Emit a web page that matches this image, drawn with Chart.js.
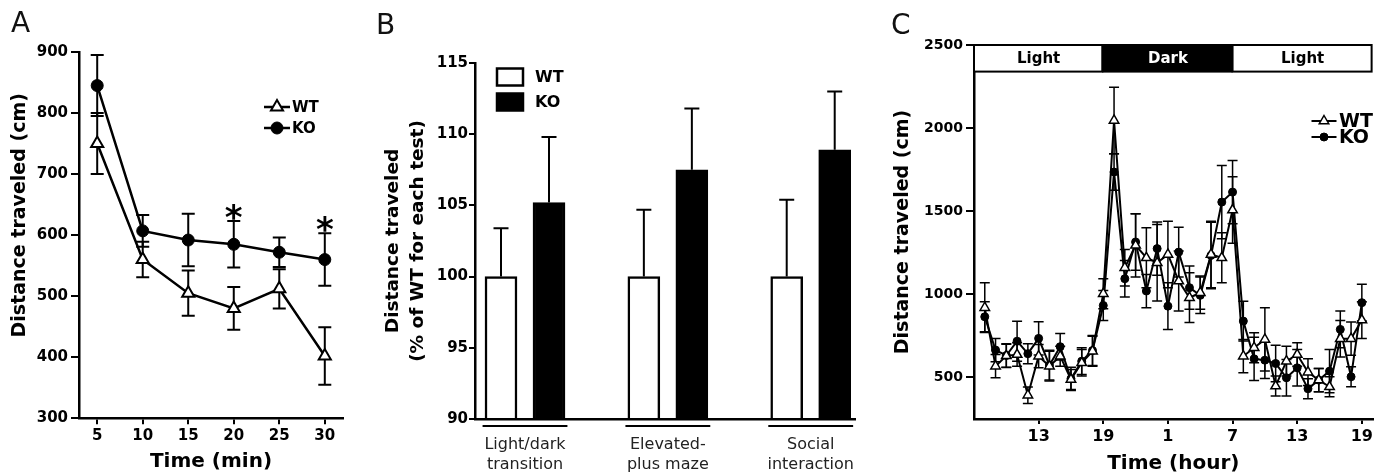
<!DOCTYPE html>
<html>
<head>
<meta charset="utf-8">
<title>Distance traveled, WT vs KO</title>
<script src="https://cdn.jsdelivr.net/npm/chart.js@4.4.1/dist/chart.umd.min.js"></script>
<style>
  body { margin: 0; background: #fff; }
  #fig { position: relative; width: 1376px; height: 476px; overflow: hidden; background: #fff; }
  canvas { position: absolute; top: 0; }
  .tag { position: absolute; font: 28px "DejaVu Sans", sans-serif; color: #111; }
</style>
</head>
<body>
<div id="fig">
  <canvas id="panelA" width="360" height="476" style="left:0"></canvas>
  <canvas id="panelB" width="520" height="476" style="left:360px"></canvas>
  <canvas id="panelC" width="496" height="476" style="left:880px"></canvas>
  <div class="tag" style="left:11px;top:6px">A</div>
  <div class="tag" style="left:376px;top:8px">B</div>
  <div class="tag" style="left:891px;top:8px">C</div>
</div>
<script>
// ---- panel A: open field, 5 min bins
const minutes = [5, 10, 15, 20, 25, 30];
const openWT = [750, 560, 505, 480, 512, 402];
const openWTerr = [50, 29, 37, 35, 32, 47];
const openKO = [845, 607, 592, 585, 572, 560];
const openKOerr = [50, 26, 43, 38, 24, 43];
const starMinutes = [20, 30];
const distTicksA = [300, 400, 500, 600, 700, 800, 900];

// ---- panel B: % of WT per test
const tests = [['Light/dark', 'transition'], ['Elevated-', 'plus maze'], ['Social', 'interaction']];
const testWT = [100, 100, 100];
const testWTerr = [3.4, 4.7, 5.4];
const testKO = [105.2, 107.5, 108.9];
const testKOerr = [4.6, 4.3, 4.1];
const pctTicks = [90, 95, 100, 105, 110, 115];

// ---- panel C: home cage, hourly (13 = 13:00 day 1 ... 43 = 19:00 day 2)
const hours = [8, 9, 10, 11, 12, 13, 14, 15, 16, 17, 18, 19, 20, 21, 22, 23, 24, 25,
               26, 27, 28, 29, 30, 31, 32, 33, 34, 35, 36, 37, 38, 39, 40, 41, 42, 43];
const hourWT = [920, 568, 630, 638, 393, 628, 568, 628, 488, 588, 658, 1004, 2046, 1160, 1295, 1220, 1190, 1240,
                1080, 980, 1010, 1240, 1220, 1507, 628, 679, 729, 448, 598, 638, 532, 484, 444, 733, 733, 845];
const hourWTerr = [150, 70, 70, 70, 50, 70, 90, 60, 60, 80, 90, 90, 200, 110, 190, 180, 230, 200,
                   180, 150, 100, 200, 150, 200, 100, 90, 190, 60, 90, 70, 80, 70, 60, 110, 100, 110];
const hourKO = [865, 665, 632, 718, 643, 735, 574, 685, 492, 598, 662, 933, 1736, 1094, 1315, 1020, 1275, 929,
                1254, 1040, 994, 1234, 1555, 1615, 839, 612, 604, 584, 498, 558, 432, 484, 538, 789, 504, 950];
const hourKOerr = [90, 70, 70, 120, 60, 100, 90, 80, 70, 80, 90, 90, 110, 110, 170, 100, 160, 140,
                   150, 130, 110, 200, 220, 190, 120, 130, 110, 110, 110, 110, 60, 70, 130, 110, 60, 110];
const hourTicks = [13, 19, 25, 31, 37, 43];
const hourLabels = ['13', '19', '1', '7', '13', '19'];
const distTicksC = [500, 1000, 1500, 2000, 2500];
const phases = ['Light', 'Dark', 'Light'];
const phaseBounds = [7, 19, 31, 44];

Chart.defaults.font.family = '"DejaVu Sans", sans-serif';
Chart.defaults.color = '#000';

const FONT = '"DejaVu Sans", sans-serif';

function marker(ctx, style, x, y, r, fill) {
  ctx.beginPath();
  if (style === 'triangle') {
    ctx.moveTo(x, y - r);
    ctx.lineTo(x + r * 0.866, y + r * 0.5);
    ctx.lineTo(x - r * 0.866, y + r * 0.5);
    ctx.closePath();
  } else {
    ctx.arc(x, y, r, 0, Math.PI * 2);
  }
  ctx.fillStyle = fill;
  ctx.fill();
  ctx.stroke();
}

// error bars, drawn before the marks so markers sit on top
const errorBars = {
  id: 'errorBars',
  beforeDatasetsDraw(chart, args, opts) {
    const ctx = chart.ctx;
    const ys = chart.scales.y;
    chart.data.datasets.forEach((ds, i) => {
      if (!ds.errors) return;
      const meta = chart.getDatasetMeta(i);
      ctx.save();
      ctx.strokeStyle = '#000';
      ctx.lineWidth = opts.lineWidth;
      meta.data.forEach((pt, j) => {
        const v = ds.data[j].y;
        const top = ys.getPixelForValue(v + ds.errors[j]);
        const bottom = opts.upOnly ? pt.y : ys.getPixelForValue(v - ds.errors[j]);
        ctx.beginPath();
        ctx.moveTo(pt.x, top);
        ctx.lineTo(pt.x, bottom);
        ctx.moveTo(pt.x - opts.cap, top);
        ctx.lineTo(pt.x + opts.cap, top);
        if (!opts.upOnly) {
          ctx.moveTo(pt.x - opts.cap, bottom);
          ctx.lineTo(pt.x + opts.cap, bottom);
        }
        ctx.stroke();
      });
      ctx.restore();
    });
  }
};

// little key in the corner, built from the datasets
const seriesKey = {
  id: 'seriesKey',
  afterDatasetsDraw(chart, args, o) {
    const ctx = chart.ctx;
    ctx.save();
    chart.data.datasets.forEach((ds, i) => {
      const y = o.y + i * o.gap;
      ctx.strokeStyle = '#000';
      ctx.lineWidth = o.lineWidth;
      if (o.boxes) {
        ctx.fillStyle = ds.backgroundColor;
        ctx.fillRect(o.x, y - o.h / 2, o.w, o.h);
        ctx.strokeRect(o.x, y - o.h / 2, o.w, o.h);
      } else {
        ctx.beginPath();
        ctx.moveTo(o.x - o.w / 2, y);
        ctx.lineTo(o.x + o.w / 2, y);
        ctx.stroke();
        ctx.lineWidth = ds.pointBorderWidth;
        marker(ctx, ds.pointStyle, o.x, y, ds.pointRadius, ds.pointBackgroundColor);
      }
      ctx.fillStyle = '#000';
      ctx.font = 'bold ' + o.size + 'px ' + FONT;
      ctx.textBaseline = 'middle';
      ctx.fillText(ds.label, o.textX, y + 1);
    });
    ctx.restore();
  }
};

const stars = {
  id: 'stars',
  afterDatasetsDraw(chart, args, o) {
    const ctx = chart.ctx;
    const ds = chart.data.datasets[o.dataset];
    ctx.save();
    ctx.font = 'bold ' + o.size + 'px ' + FONT;
    ctx.textAlign = 'center';
    ctx.fillStyle = '#000';
    starMinutes.forEach(m => {
      const i = minutes.indexOf(m);
      const x = chart.scales.x.getPixelForValue(m);
      const y = chart.scales.y.getPixelForValue(ds.data[i].y + ds.errors[i]) - o.gap;
      ctx.fillText('*', x, y + 0.58 * o.size);
    });
    ctx.restore();
  }
};

const phaseBand = {
  id: 'phaseBand',
  afterDraw(chart, args, o) {
    const ctx = chart.ctx, xs = chart.scales.x, ys = chart.scales.y;
    const top = ys.getPixelForValue(o.top);
    const bottom = ys.getPixelForValue(o.bottom);
    ctx.save();
    ctx.lineWidth = 2;
    ctx.strokeStyle = '#000';
    ctx.font = 'bold 15px ' + FONT;
    ctx.textAlign = 'center';
    ctx.textBaseline = 'middle';
    phases.forEach((name, i) => {
      const x0 = xs.getPixelForValue(phaseBounds[i]);
      const x1 = xs.getPixelForValue(phaseBounds[i + 1]);
      const dark = name === 'Dark';
      ctx.fillStyle = dark ? '#000' : '#fff';
      ctx.fillRect(x0, top, x1 - x0, bottom - top);
      ctx.strokeRect(x0, top, x1 - x0 - 1, bottom - top);
      ctx.fillStyle = dark ? '#fff' : '#000';
      ctx.fillText(name, (x0 + x1) / 2, (top + bottom) / 2 + 1);
    });
    ctx.restore();
  }
};

const groupRules = {
  id: 'groupRules',
  afterDraw(chart, args, o) {
    const ctx = chart.ctx, xs = chart.scales.x;
    const y = chart.chartArea.bottom + o.drop;
    ctx.save();
    ctx.strokeStyle = '#000';
    ctx.lineWidth = 2;
    tests.forEach((t, i) => {
      ctx.beginPath();
      ctx.moveTo(xs.getPixelForValue(i + 1 - o.half), y);
      ctx.lineTo(xs.getPixelForValue(i + 1 + o.half), y);
      ctx.stroke();
    });
    ctx.restore();
  }
};

const axisLine = { color: '#000', width: 2.5 };
const plain = v => String(v);

// ---------------- A ----------------
new Chart(document.getElementById('panelA'), {
  type: 'line',
  data: {
    datasets: [{
      label: 'WT',
      data: minutes.map((m, i) => ({ x: m, y: openWT[i] })),
      errors: openWTerr,
      borderColor: '#000',
      borderWidth: 2.5,
      pointStyle: 'triangle',
      pointRadius: 7,
      pointBackgroundColor: '#fff',
      pointBorderColor: '#000',
      pointBorderWidth: 2,
    }, {
      label: 'KO',
      data: minutes.map((m, i) => ({ x: m, y: openKO[i] })),
      errors: openKOerr,
      borderColor: '#000',
      borderWidth: 2.5,
      pointStyle: 'circle',
      pointRadius: 6,
      pointBackgroundColor: '#000',
      pointBorderColor: '#000',
      pointBorderWidth: 1,
    }]
  },
  options: {
    responsive: false,
    animation: false,
    events: [],
    layout: { autoPadding: false, padding: { top: 52, right: 17, bottom: 0, left: 0 } },
    scales: {
      x: {
        type: 'linear', min: 3, max: 32,
        afterBuildTicks: s => { s.ticks = minutes.map(v => ({ value: v })); },
        afterFit: s => { s.height = 57.7; },
        grid: { drawOnChartArea: false, color: '#000', lineWidth: 2, tickLength: 6 },
        border: axisLine,
        ticks: { autoSkip: false, maxRotation: 0, padding: 3, font: { size: 15, weight: 'bold' }, callback: plain },
        title: { display: true, text: 'Time (min)', font: { size: 20, weight: 'bold' }, padding: { top: 0, bottom: 2 } }
      },
      y: {
        min: 300, max: 900,
        afterBuildTicks: s => { s.ticks = distTicksA.map(v => ({ value: v })); },
        afterFit: s => { s.width = 79; },
        grid: { drawOnChartArea: false, color: '#000', lineWidth: 2, tickLength: 8 },
        border: axisLine,
        ticks: { padding: 3, font: { size: 15, weight: 'bold' }, callback: plain },
        title: { display: true, text: '      Distance traveled (cm)', font: { size: 19, weight: 'bold' }, padding: { top: 9 } }
      }
    },
    plugins: {
      legend: { display: false },
      tooltip: { enabled: false },
      errorBars: { lineWidth: 2, cap: 6.5 },
      seriesKey: { x: 277, y: 107, gap: 21, w: 26, lineWidth: 2.5, textX: 292, size: 15 },
      stars: { dataset: 1, gap: 12, size: 34 }
    }
  },
  plugins: [errorBars, seriesKey, stars]
});

// ---------------- B ----------------
const barShift = 0.168;
new Chart(document.getElementById('panelB'), {
  type: 'bar',
  data: {
    datasets: [{
      label: 'WT',
      data: testWT.map((v, i) => ({ x: i + 1 - barShift, y: v })),
      errors: testWTerr,
      backgroundColor: '#fff',
      borderColor: '#000',
      borderWidth: 2.5,
    }, {
      label: 'KO',
      data: testKO.map((v, i) => ({ x: i + 1 + barShift, y: v })),
      errors: testKOerr,
      backgroundColor: '#000',
      borderColor: '#000',
      borderWidth: 2.5,
    }]
  },
  options: {
    responsive: false,
    animation: false,
    events: [],
    grouped: false,
    barThickness: 32,
    base: 90,
    layout: { autoPadding: false, padding: { top: 63, right: 25, bottom: 0, left: 0 } },
    scales: {
      x: {
        type: 'linear', min: 0.65, max: 3.31, offset: false,
        afterBuildTicks: s => { s.ticks = tests.map((t, i) => ({ value: i + 1 })); },
        afterFit: s => { s.height = 57; },
        grid: { display: true, drawOnChartArea: false, drawTicks: false, offset: false },
        border: axisLine,
        ticks: {
          autoSkip: false, maxRotation: 0, padding: 16, color: '#222',
          font: { size: 16, lineHeight: 1.25 },
          callback: (v, i) => tests[i]
        }
      },
      y: {
        min: 90, max: 115,
        afterBuildTicks: s => { s.ticks = pctTicks.map(v => ({ value: v })); },
        afterFit: s => { s.width = 115; },
        grid: { drawOnChartArea: false, color: '#000', lineWidth: 2, tickLength: 6 },
        border: axisLine,
        ticks: { padding: 1, font: { size: 15, weight: 'bold' }, callback: plain },
        title: {
          display: true,
          text: ['Distance traveled', '(% of WT for each test)'],
          font: { size: 18.5, weight: 'bold', lineHeight: 1.35 },
          padding: { top: 21 }
        }
      }
    },
    plugins: {
      legend: { display: false },
      tooltip: { enabled: false },
      errorBars: { lineWidth: 2, cap: 7.5, upOnly: true },
      seriesKey: { boxes: true, x: 137, y: 77, gap: 25, w: 26, h: 17, lineWidth: 2.5, textX: 175, size: 16 },
      groupRules: { drop: 7, half: 0.297 }
    }
  },
  plugins: [errorBars, seriesKey, groupRules]
});

// ---------------- C ----------------
new Chart(document.getElementById('panelC'), {
  type: 'line',
  data: {
    datasets: [{
      label: 'WT',
      data: hours.map((h, i) => ({ x: h, y: hourWT[i] })),
      errors: hourWTerr,
      borderColor: '#000',
      borderWidth: 2,
      pointStyle: 'triangle',
      pointRadius: 5.5,
      pointBackgroundColor: '#fff',
      pointBorderColor: '#000',
      pointBorderWidth: 1.5,
    }, {
      label: 'KO',
      data: hours.map((h, i) => ({ x: h, y: hourKO[i] })),
      errors: hourKOerr,
      borderColor: '#000',
      borderWidth: 2,
      pointStyle: 'circle',
      pointRadius: 4,
      pointBackgroundColor: '#000',
      pointBorderColor: '#000',
      pointBorderWidth: 1,
    }]
  },
  options: {
    responsive: false,
    animation: false,
    events: [],
    layout: { autoPadding: false, padding: { top: 45, right: 1, bottom: 0, left: 0 } },
    scales: {
      x: {
        type: 'linear', min: 7, max: 44,
        afterBuildTicks: s => { s.ticks = hourTicks.map(v => ({ value: v })); },
        afterFit: s => { s.height = 57; },
        grid: { drawOnChartArea: false, color: '#000', lineWidth: 2, tickLength: 5 },
        border: axisLine,
        ticks: { autoSkip: false, maxRotation: 0, padding: 3, font: { size: 16, weight: 'bold' }, callback: (v, i) => hourLabels[i] },
        title: { display: true, text: 'Time (hour)', font: { size: 20, weight: 'bold' }, padding: { top: 0, bottom: 0 } }
      },
      y: {
        min: 250, max: 2500,
        afterBuildTicks: s => { s.ticks = distTicksC.map(v => ({ value: v })); },
        afterFit: s => { s.width = 94; },
        grid: { drawOnChartArea: false, color: '#000', lineWidth: 2, tickLength: 8 },
        border: axisLine,
        ticks: { padding: 3, font: { size: 14, weight: 'bold' }, callback: plain },
        title: { display: true, text: 'Distance traveled (cm)', font: { size: 19, weight: 'bold' }, padding: { top: 12 } }
      }
    },
    plugins: {
      legend: { display: false },
      tooltip: { enabled: false },
      errorBars: { lineWidth: 1.5, cap: 5 },
      seriesKey: { x: 444, y: 121, gap: 16, w: 25, lineWidth: 2, textX: 459, size: 19 },
      phaseBand: { top: 2500, bottom: 2340 }
    }
  },
  plugins: [errorBars, seriesKey, phaseBand]
});
</script>
</body>
</html>
